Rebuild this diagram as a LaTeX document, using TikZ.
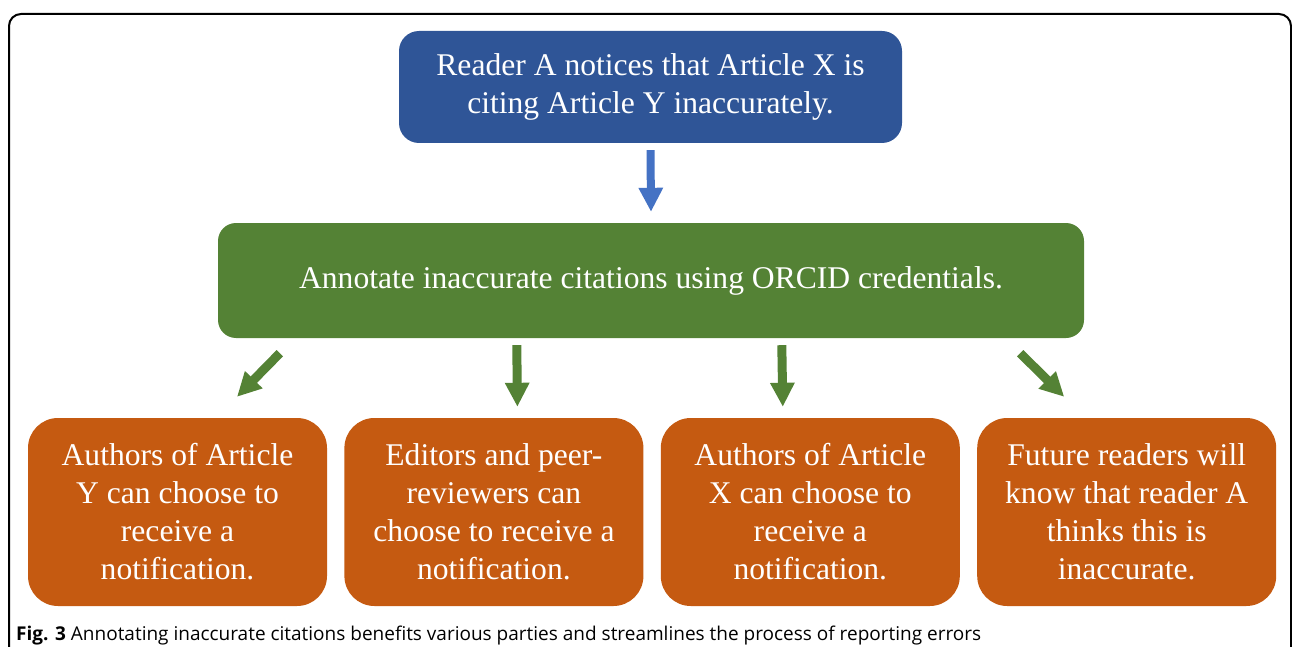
\documentclass[tikz,border=0pt]{standalone}
\usepackage{fontspec}
\setmainfont{Liberation Serif}
\newfontfamily\capfont{Open Sans}
\usetikzlibrary{positioning,arrows.meta}
\definecolor{readerblue}{HTML}{2F5597}
\definecolor{arrowblue}{HTML}{4472C4}
\definecolor{annogreen}{HTML}{548235}
\definecolor{partyorange}{HTML}{C55A11}
\begin{document}
\begin{tikzpicture}[
    x=1pt,y=1pt,
    box/.style={text=white, align=center, inner sep=0pt, font=\fontsize{31.6}{38}\selectfont},
    topbox/.style={box, fill=readerblue, rounded corners=20pt, minimum width=503pt, minimum height=112pt},
    midbox/.style={box, fill=annogreen, rounded corners=18pt, minimum width=866pt, minimum height=115pt},
    partybox/.style={box, fill=partyorange, rounded corners=30pt, minimum width=299pt, minimum height=188pt},
    flow/.style={line width=9pt, -{Triangle[width=23pt,length=24pt]}}
    ]
	\useasboundingbox (0,0) rectangle (1292,-647);
	\draw[line width=2pt, rounded corners=12pt] (9,-700) -- (9,-14) -- (1291,-14) -- (1291,-700);
	\node [topbox] (reader) at (650.5,-87) {Reader A notices that Article X is\\citing Article Y inaccurately.};
	\node [midbox] (annotate) at (651,-280.5) {Annotate inaccurate citations using ORCID credentials.};
	\node [partybox] (authorsY) at (177.5,-512) {Authors of Article\\Y can choose to\\receive a\\notification.};
	\node [partybox, right=17pt of authorsY] (editors) {Editors and peer-\\reviewers can\\choose to receive a\\notification.};
	\node [partybox, right=17pt of editors] (authorsX) {Authors of Article\\X can choose to\\receive a\\notification.};
	\node [partybox, right=17pt of authorsX] (readers) {Future readers will\\know that reader A\\thinks this is\\inaccurate.};
	% arrow ends
	\coordinate (a1) at ([shift={(62,-15)}]annotate.south west);
	\coordinate (b1) at ([shift={(59.5,21)}]authorsY.north);
	\coordinate (a2) at ([shift={(299,-7)}]annotate.south west);
	\coordinate (b2) at ([shift={(23.5,11)}]editors.north);
	\coordinate (a3) at ([shift={(564,-7)}]annotate.south west);
	\coordinate (b3) at ([shift={(-27.5,11)}]authorsX.north);
	\coordinate (a4) at ([shift={(-64,-15)}]annotate.south east);
	\coordinate (b4) at ([shift={(-62.5,21)}]readers.north);
	\draw [flow, arrowblue, line width=8pt] ([yshift=-7pt]reader.south) -- ([yshift=11pt]annotate.north);
	\foreach \i in {1,...,4}
		\draw [flow, annogreen] (a\i) -- (b\i);
	\node [anchor=base west, inner sep=0pt, font=\capfont\fontsize{19}{22}\selectfont] (caption) at (16,-640)
		{\textbf{Fig. 3} Annotating inaccurate citations benefits various parties and streamlines the process of reporting errors};
\end{tikzpicture}
\end{document}
